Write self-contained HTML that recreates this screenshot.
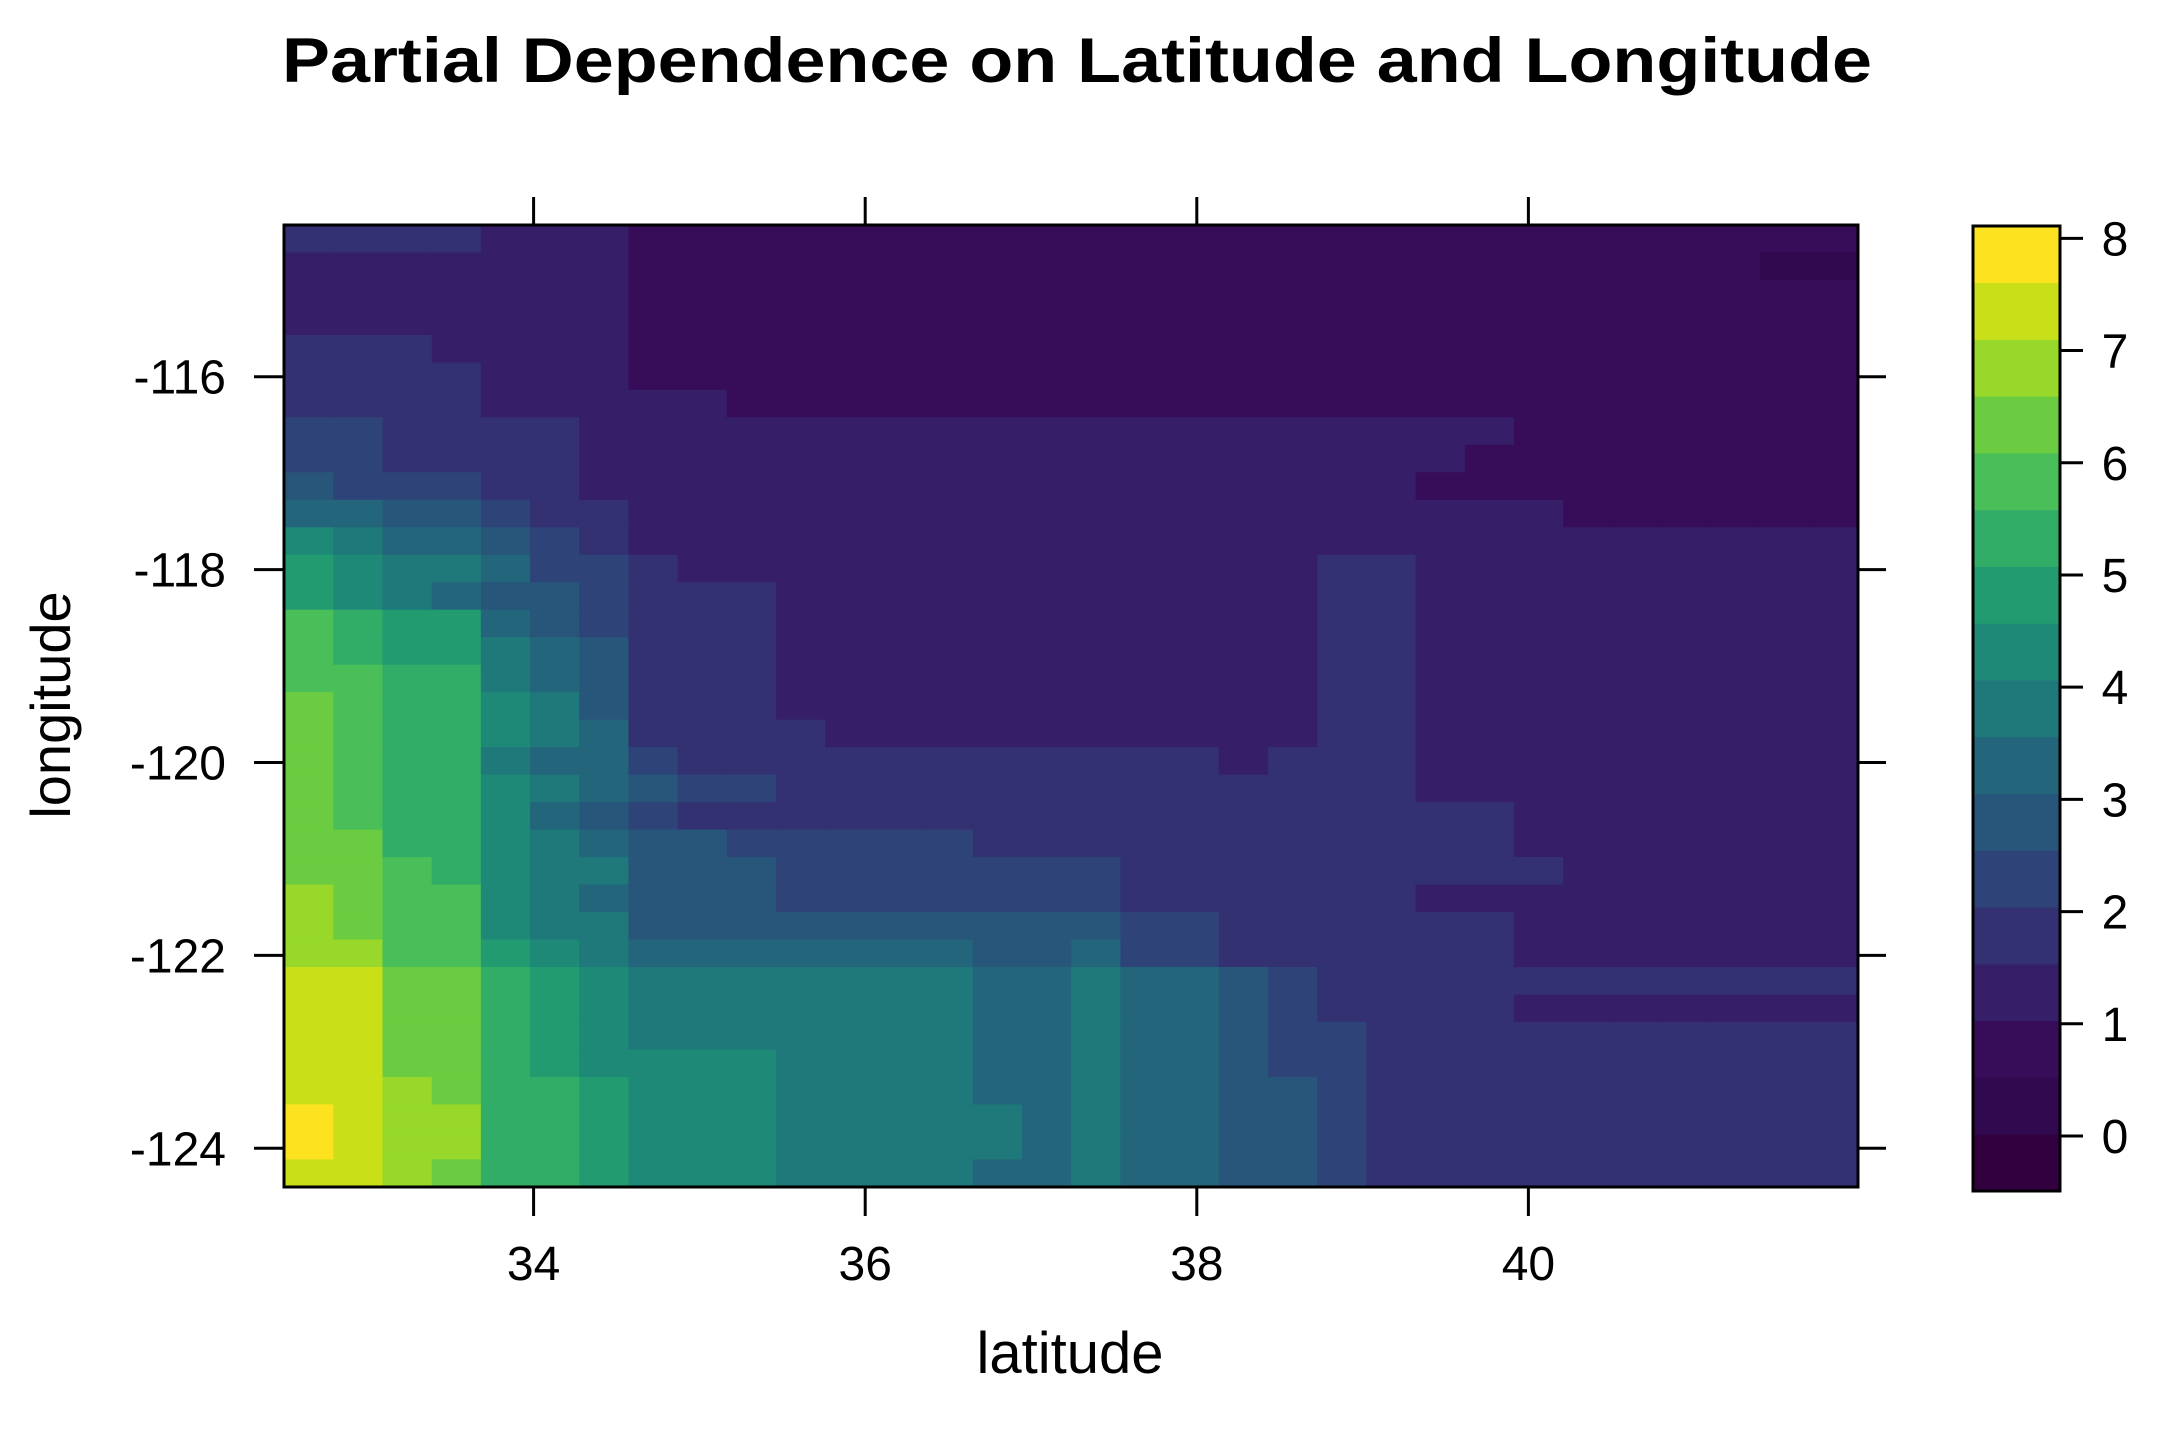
<!DOCTYPE html>
<html><head><meta charset="utf-8"><style>
html,body{margin:0;padding:0;background:#fff;}
svg{display:block;font-family:"Liberation Sans",Arial,sans-serif;}
</style></head><body>
<svg id="chart" width="2160" height="1440" viewBox="0 0 2160 1440">
<text x="1077" y="82" text-anchor="middle" font-size="63" font-weight="bold" textLength="1590" lengthAdjust="spacingAndGlyphs">Partial Dependence on Latitude and Longitude</text>
<g id="heat"></g>
<rect x="284" y="225" width="1574" height="962" fill="none" stroke="#000" stroke-width="3"/>
<g id="axes"></g>
<g id="cbar"></g>
<text x="1070" y="1373" text-anchor="middle" font-size="58">latitude</text>
<text transform="translate(70,705) rotate(-90)" text-anchor="middle" font-size="56">longitude</text>
</svg>
<script>
// level colours (17 bands)
const levelColors = ["#33003f","#30094f","#370c58","#361e69","#333172","#2e4479","#28567b","#23667b","#1f787a","#1e8977","#229b71","#31ad68","#4abe58","#6ccc41","#97d82a","#c9e019","#fde31f"];
const levelBreaks = [-0.49,0.016,0.522,1.028,1.534,2.04,2.546,3.052,3.558,4.064,4.57,5.076,5.582,6.088,6.594,7.1,7.606,8.11];
const latRange = [32.495, 41.99];
const lonRange = [-114.427, -124.40];
const xTicks = [34, 36, 38, 40];
const yTicks = [-116, -118, -120, -122, -124];
const cbarTicks = [0,1,2,3,4,5,6,7,8];
// band index per cell: rows go from top (lon -114.4) to bottom (lon -124.4); columns from lat 32.5 to 42
const gridRows = [
"4444333"+"2222222222222222222222222",
"3333333"+"22222222222222222222222"+"11",
"3333333"+"2222222222222222222222222",
"3333333"+"2222222222222222222222222",
"4443333"+"2222222222222222222222222",
"4444333"+"2222222222222222222222222",
"444433333"+"22222222222222222222222",
"554444"+"3333333333333333333"+"2222222",
"554444"+"333333333333333333"+"22222222",
"655544"+"33333333333333333"+"222222222",
"7766544"+"3333333333333333333"+"222222",
"9877654"+"3333333333333333333333333",
"a9887554"+"3333333333333"+"44"+"333333333",
"a987665444"+"33333333333"+"44"+"333333333",
"cbaa765444"+"33333333333"+"44"+"333333333",
"cbaa876444"+"33333333333"+"44"+"333333333",
"ccbb876444"+"33333333333"+"44"+"333333333",
"dcbb986444"+"33333333333"+"44"+"333333333",
"dcbb9874444"+"3333333333"+"44"+"333333333",
"dcbb8775"+"44444444444"+"3"+"444"+"333333333",
"dcbb987655"+"4444444444444"+"333333333",
"dcbb9765"+"44444444444444444"+"3333333",
"ddbb98766"+"55555"+"44444444444"+"3333333",
"ddcb988666"+"5555555"+"444444444"+"333333",
"edcc987666"+"5555555"+"444444"+"333333333",
"edcc988"+"6666666666"+"55"+"444444"+"3333333",
"eecca98"+"7777777"+"66"+"7"+"55"+"444444"+"3333333",
"ffddba9"+"8888888"+"77"+"8"+"77"+"65"+"44444444444",
"ffddba9"+"8888888"+"77"+"8"+"77"+"65"+"4444"+"3333333",
"ffddba9"+"8888888"+"77"+"8"+"77"+"655"+"4444444444",
"ffddba9"+"999"+"8888"+"77"+"8"+"77"+"655"+"4444444444",
"ffedbba"+"999"+"8888"+"77"+"8"+"77"+"665"+"4444444444",
"gfeebba"+"999"+"8888"+"87"+"8"+"77"+"665"+"4444444444",
"gfeebba"+"999"+"8888"+"87"+"8"+"77"+"665"+"4444444444",
"ffedbba"+"999"+"8888"+"77"+"8"+"77"+"665"+"4444444444"
];
const NS = "http://www.w3.org/2000/svg";
const PL = 284, PR = 1858, PT = 225, PB = 1187;
function xScale(lat){ return 533.6 + (lat - 34) * 165.8; }
function yScale(lon){ return 376.7 + (-116 - lon) * 96.45; }
const heat = document.getElementById('heat');
const nRows = gridRows.length, nCols = 32;
const dLat = (latRange[1] - latRange[0]) / nCols;
const dLon = (lonRange[0] - lonRange[1]) / nRows;
const codes = "0123456789abcdefg";
for (let r = 0; r < nRows; r++) {
  const row = gridRows[r];
  for (let c = 0; c < nCols; c++) {
    const lv = codes.indexOf(row[Math.min(c, row.length - 1)]);
    const x0 = xScale(latRange[0] + c * dLat), x1 = xScale(latRange[0] + (c + 1) * dLat);
    const y0 = yScale(lonRange[0] - r * dLon), y1 = yScale(lonRange[0] - (r + 1) * dLon);
    const rc = document.createElementNS(NS, 'rect');
    rc.setAttribute('x', x0.toFixed(2)); rc.setAttribute('y', y0.toFixed(2));
    rc.setAttribute('width', (x1 - x0 + 0.6).toFixed(2)); rc.setAttribute('height', (y1 - y0 + 0.6).toFixed(2));
    rc.setAttribute('fill', levelColors[lv]);
    
    
    heat.appendChild(rc);
  }
}
const axes = document.getElementById('axes');
function line(x1,y1,x2,y2,name){
  const l = document.createElementNS(NS,'line');
  l.setAttribute('x1',x1); l.setAttribute('y1',y1); l.setAttribute('x2',x2); l.setAttribute('y2',y2);
  l.setAttribute('stroke','#000'); l.setAttribute('stroke-width','3');
  
  
  axes.appendChild(l);
}
function text(x,y,s,anchor,size,name,parent){
  const t = document.createElementNS(NS,'text');
  t.setAttribute('x',x); t.setAttribute('y',y); t.setAttribute('text-anchor',anchor);
  t.setAttribute('font-size',size); t.textContent = s;
  
  
  (parent||axes).appendChild(t);
}
xTicks.forEach(v => {
  const x = xScale(v);
  line(x, PT - 28, x, PT, 'x-tick-top');
  line(x, PB, x, PB + 29, 'x-tick-bottom');
  text(x, 1280, String(v), 'middle', 48, 'x-tick-label');
});
yTicks.forEach(v => {
  const y = yScale(v);
  line(PL - 30, y, PL, y, 'y-tick-left');
  line(PR, y, PR + 28, y, 'y-tick-right');
  text(226, y + 17, String(v), 'end', 48, 'y-tick-label');
});
// colorbar
const cbar = document.getElementById('cbar');
const CBX = 1973, CBW = 87, CBT = 226, CBB = 1191;
function cbY(v){ return CBB - (v - levelBreaks[0]) / (levelBreaks[levelBreaks.length-1] - levelBreaks[0]) * (CBB - CBT); }
for (let i = 0; i < levelColors.length; i++) {
  const y0 = cbY(levelBreaks[i+1]), y1 = cbY(levelBreaks[i]);
  const rc = document.createElementNS(NS,'rect');
  rc.setAttribute('x', CBX); rc.setAttribute('y', y0.toFixed(2));
  rc.setAttribute('width', CBW); rc.setAttribute('height', (y1 - y0 + 0.5).toFixed(2));
  rc.setAttribute('fill', levelColors[i]);
  
  
  cbar.appendChild(rc);
}
const fr = document.createElementNS(NS,'rect');
fr.setAttribute('x', CBX); fr.setAttribute('y', CBT); fr.setAttribute('width', CBW); fr.setAttribute('height', CBB - CBT);
fr.setAttribute('fill','none'); fr.setAttribute('stroke','#000'); fr.setAttribute('stroke-width','3');


cbar.appendChild(fr);
cbarTicks.forEach(v => {
  const y = cbY(v);
  const l = document.createElementNS(NS,'line');
  l.setAttribute('x1', CBX + CBW); l.setAttribute('x2', CBX + CBW + 23); l.setAttribute('y1', y); l.setAttribute('y2', y);
  l.setAttribute('stroke','#000'); l.setAttribute('stroke-width','3');
  
  
  cbar.appendChild(l);
  text(2115, y + 17, String(v), 'middle', 48, 'colorbar-tick-label', cbar);
});
</script>
</body></html>
